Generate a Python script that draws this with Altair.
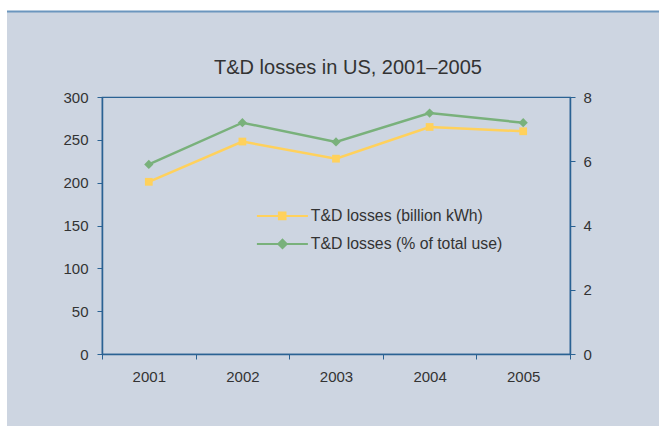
import altair as alt
import pandas as pd

# Transmission & distribution losses in the US
years = ["2001", "2002", "2003", "2004", "2005"]
losses_bkwh = [201, 248, 228, 265, 260]
losses_pct = [5.9, 7.2, 6.6, 7.5, 7.2]

name_bkwh = "T&D losses (billion kWh)"
name_pct = "T&D losses (% of total use)"

BG = "#CDD5E1"
AXIS = "#2A6293"
TEXT = "#333333"
YELLOW = "#FFD15C"
GREEN = "#79B17B"
FONT = "Liberation Sans"

df = pd.DataFrame({
    "year": years,
    "bkwh": losses_bkwh,
    "pct": losses_pct,
    "s_bkwh": [name_bkwh] * len(years),
    "s_pct": [name_pct] * len(years),
})

x_enc = alt.X(
    "year:O",
    bandPosition=0.5,
    scale=alt.Scale(type="band", paddingInner=0, paddingOuter=0),
    axis=alt.Axis(title=None, labelAngle=0, tickBand="extent", labelPadding=10),
)

# legend glyphs: a line with the series marker in its middle
sym_square = "M-9.2,0H1.0M-4.8,-0.66H-3.48V0.66H-4.8Z"
sym_diamond = "M-9.2,0H1.0M-4.92,0L-4.08,-0.84L-3.24,0L-4.08,0.84Z"

legend_common = dict(
    orient="none", title=None, symbolSize=100, symbolStrokeWidth=2,
    labelFontSize=15.8, labelColor=TEXT, labelFont=FONT, labelOffset=0, padding=0,
    labelLimit=0,
)

base = alt.Chart(df)

bkwh = base.mark_line(
    strokeWidth=2.5,
    point=alt.OverlayMarkDef(shape="square", size=60, filled=True, opacity=1),
).encode(
    x=x_enc,
    y=alt.Y("bkwh:Q", scale=alt.Scale(domain=[0, 300], nice=False),
            axis=alt.Axis(title=None, values=[0, 50, 100, 150, 200, 250, 300], orient="left", labelPadding=9)),
    color=alt.Color("s_bkwh:N", scale=alt.Scale(domain=[name_bkwh], range=[YELLOW]),
                    legend=alt.Legend(legendX=193, legendY=111, symbolType=sym_square,
                                      symbolFillColor=YELLOW, symbolStrokeColor=YELLOW, **legend_common)),
)

pct = base.mark_line(
    strokeWidth=2.5,
    point=alt.OverlayMarkDef(shape="diamond", size=85, filled=True, opacity=1),
).encode(
    x=x_enc,
    y=alt.Y("pct:Q", scale=alt.Scale(domain=[0, 8], nice=False),
            axis=alt.Axis(title=None, values=[0, 2, 4, 6, 8], orient="right", labelPadding=8)),
    color=alt.Color("s_pct:N", scale=alt.Scale(domain=[name_pct], range=[GREEN]),
                    legend=alt.Legend(legendX=193, legendY=139, symbolType=sym_diamond,
                                      symbolFillColor=GREEN, symbolStrokeColor=GREEN, **legend_common)),
)

# page frame: white margins and the rule across the top
one = alt.Data(values=[{}])
top_strip = alt.Chart(one).mark_rect(color="white").encode(
    x=alt.value(-102), x2=alt.value(557), y=alt.value(-97), y2=alt.value(-86))
left_strip = alt.Chart(one).mark_rect(color="white").encode(
    x=alt.value(-102), x2=alt.value(-95), y=alt.value(-97), y2=alt.value(329))
top_rule = alt.Chart(one).mark_rule(color="#6B96BE", strokeWidth=2).encode(
    x=alt.value(-95), x2=alt.value(557), y=alt.value(-85.5))

lines = alt.layer(bkwh, pct).resolve_scale(y="independent", color="independent")

chart = alt.layer(top_strip, left_strip, top_rule, lines).properties(
    width=468,
    height=257,
    padding={"left": 102, "top": 97, "right": 89, "bottom": 72},
    autosize=alt.AutoSizeParams(type="none"),
    background=BG,
    title=alt.Title("T&D losses in US, 2001–2005", fontSize=20, font=FONT,
                    fontWeight="normal", color=TEXT, anchor="middle", offset=0,
                    dx=12, dy=78),
).configure_view(
    stroke=AXIS, strokeWidth=1.2,
).configure_axis(
    grid=False, domainColor=AXIS, domainWidth=1.5, tickColor=AXIS, tickSize=5,
    labelFont=FONT, labelFontSize=15, labelColor=TEXT, zindex=1,
)

chart.save("out.html", embed_options={"renderer": "svg", "actions": False})
